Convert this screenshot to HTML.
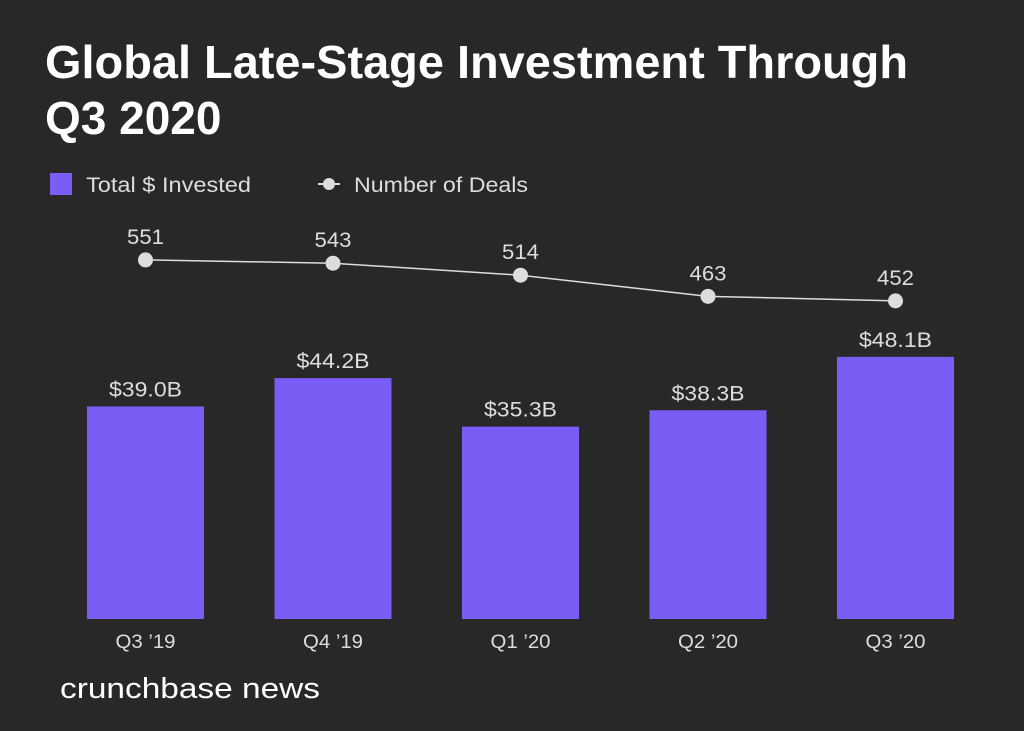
<!DOCTYPE html>
<html><head><meta charset="utf-8"><style>
body{margin:0;background:#282828;}
svg{display:block}
text{font-family:"Liberation Sans",sans-serif;}
</style></head><body>
<svg id="chart" width="1024" height="731" viewBox="0 0 1024 731">
<rect width="1024" height="731" fill="#282828"/>
<text x="45" y="78" fill="#fff" font-size="46" font-weight="bold" textLength="863" lengthAdjust="spacingAndGlyphs">Global Late-Stage Investment Through</text>
<text x="45" y="134" fill="#fff" font-size="46" font-weight="bold">Q3 2020</text>
<g>
<rect x="50" y="173" width="22" height="22" fill="#7b5cf5"/>
<text x="86" y="192" fill="#ddd" font-size="21" textLength="165" lengthAdjust="spacingAndGlyphs">Total $ Invested</text>
</g>
<g>
<line x1="318" y1="184" x2="340" y2="184" stroke="#ddd" stroke-width="2"/>
<circle cx="329" cy="184" r="6" fill="#ddd"/>
<text x="354" y="192" fill="#ddd" font-size="21" textLength="174" lengthAdjust="spacingAndGlyphs">Number of Deals</text>
</g>
<g id="bars"></g><g id="line"></g><g id="xlabels"></g>
<text x="60" y="698" fill="#fff" font-size="29" textLength="260" lengthAdjust="spacingAndGlyphs">crunchbase news</text>
</svg>
<script>
const categories=["Q3 ’19","Q4 ’19","Q1 ’20","Q2 ’20","Q3 ’20"];
const invested=[39.0,44.2,35.3,38.3,48.1];
const investedLabels=["$39.0B","$44.2B","$35.3B","$38.3B","$48.1B"];
const deals=[551,543,514,463,452];
const NS="http://www.w3.org/2000/svg";
const x=i=>145.5+i*187.5;
const yBar=v=>619-v*5.45;
const yDeal=v=>488-v*0.414;
function mk(tag,attrs,parent,txt){const e=document.createElementNS(NS,tag);for(const k in attrs)e.setAttribute(k,attrs[k]);if(txt!==undefined)e.textContent=txt;parent.appendChild(e);return e;}
const bars=document.getElementById('bars'),line=document.getElementById('line'),xl=document.getElementById('xlabels');
invested.forEach((v,i)=>{
 const r=mk('rect',{x:x(i)-58.5,y:yBar(v),width:117,height:619-yBar(v),fill:'#7b5cf5'},bars);
 
 
 const t=mk('text',{x:x(i),y:yBar(v)-10,fill:'#ddd','font-size':21,'text-anchor':'middle',textLength:73,lengthAdjust:'spacingAndGlyphs'},bars,investedLabels[i]);
 
 
 const c=mk('text',{x:x(i),y:648,fill:'#ddd','font-size':19,'text-anchor':'middle',textLength:60,lengthAdjust:'spacingAndGlyphs'},xl,categories[i]);
 
 
});
const pl=mk('polyline',{points:deals.map((v,i)=>x(i)+','+yDeal(v)).join(' '),fill:'none',stroke:'#ddd','stroke-width':1.5},line);


deals.forEach((v,i)=>{
 const c=mk('circle',{cx:x(i),cy:yDeal(v),r:7.5,fill:'#ddd'},line);
 
 
 const t=mk('text',{x:x(i),y:yDeal(v)-16,fill:'#ddd','font-size':21,'text-anchor':'middle',textLength:37,lengthAdjust:'spacingAndGlyphs'},line,String(v));
 
 
});
</script>
</body></html>
